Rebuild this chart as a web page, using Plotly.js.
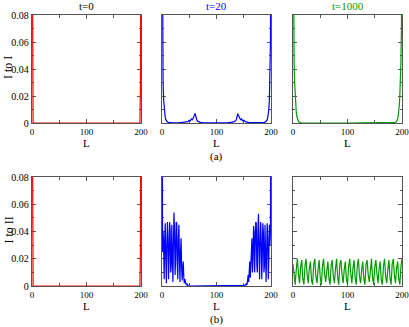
<!DOCTYPE html>
<html>
<head>
<meta charset="utf-8">
<script src="https://cdn.plot.ly/plotly-3.0.1.min.js"></script>
<style>
  html, body { margin: 0; padding: 0; background: #fff; }
  #chart { width: 409px; height: 327px; }
</style>
</head>
<body>
<div id="chart"></div>
<script>
// t=0 profile (same in both rows)
const redL = [0, 1, 2, 100, 198, 199, 200];
const redVals = [0.2, 0.027, 0, 0, 0, 0.027, 0.2];

// t=20, I to I
const blueTopL = [0, 1, 2, 3, 4, 5, 6, 7, 8, 10, 12, 15, 20, 30, 40,
  46, 48, 50, 52, 54, 56, 58, 60, 61, 62, 64, 66, 68, 70, 75, 80, 100,
  120, 125, 130, 132, 134, 136, 138, 139, 140, 142, 144, 146, 148, 150, 152, 154, 160, 170, 180,
  185, 188, 190, 192, 193, 194, 195, 196, 197, 198, 199, 200];
const blueTopVals = [0.2, 0.06, 0.03, 0.017, 0.01, 0.006, 0.004, 0.0025, 0.0015,
  0.0008, 0.0004, 0.0002, 0.0001, 0.0002, 0.0003,
  0.0008, 0.0012, 0.002, 0.0015, 0.003, 0.0025, 0.004, 0.006, 0.0072, 0.005, 0.002, 0.0012, 0.0008, 0.0005, 0.0003, 0.0002,
  0.0001,
  0.0002, 0.0003, 0.0005, 0.0008, 0.0012, 0.002, 0.005, 0.007, 0.006, 0.004, 0.0025, 0.003, 0.0015, 0.002, 0.0012, 0.0008, 0.0003, 0.0002, 0.0001,
  0.0002, 0.0005, 0.0008, 0.0015, 0.0025, 0.004, 0.006, 0.01, 0.017, 0.03, 0.06, 0.2];

// t=1000, I to I
const greenTopL = [0, 1, 2, 3, 4, 5, 6, 7, 8, 9, 10, 12, 15, 100, 185, 188,
  190, 191, 192, 193, 194, 195, 196, 197, 198, 199, 200];
const greenTopVals = [0.2, 0.07, 0.045, 0.03, 0.02, 0.013, 0.008, 0.005, 0.003, 0.002, 0.0012,
  0.0005, 0.0002, 0, 0.0002, 0.0005,
  0.0012, 0.002, 0.003, 0.005, 0.008, 0.013, 0.02, 0.03, 0.045, 0.07, 0.2];

// t=20, I to II (L = 0..48 and 150..200, step 1)
const blueBotLeft = [0.2, 0.025, 0.04, 0.03, 0.005, 0.035, 0.046, 0.02, 0.002, 0.03,
  0.047, 0.035, 0.005, 0.02, 0.047, 0.04, 0.01, 0.015, 0.045, 0.03,
  0.003, 0.03, 0.054, 0.04, 0.008, 0.02, 0.047, 0.046, 0.015, 0.005,
  0.035, 0.045, 0.02, 0.003, 0.025, 0.035, 0.015, 0.004, 0.012, 0.018,
  0.006, 0.002, 0.005, 0.003, 0.001, 0.002, 0.0005, 0.001, 0];
const blueBotRight = [0, 0, 0.0005, 0.001, 0.0005, 0.002, 0.001, 0.004, 0.008, 0.003,
  0.012, 0.018, 0.006, 0.015, 0.03, 0.035, 0.01, 0.02, 0.044, 0.04,
  0.01, 0.025, 0.047, 0.046, 0.015, 0.01, 0.04, 0.053, 0.03, 0.005,
  0.03, 0.047, 0.035, 0.005, 0.02, 0.046, 0.04, 0.01, 0.015, 0.045,
  0.03, 0.003, 0.025, 0.046, 0.035, 0.005, 0.02, 0.045, 0.03, 0.04, 0.2];

// t=1000, I to II (L = 0..200, step 2)
const greenBotVals = [0.016, 0.006, 0.001, 0.012, 0.020, 0.009, 0.002, 0.014, 0.019, 0.005,
  0.001, 0.015, 0.020, 0.008, 0.002, 0.013, 0.018, 0.004, 0.001, 0.016,
  0.020, 0.007, 0.002, 0.012, 0.019, 0.006, 0.001, 0.014, 0.020, 0.009,
  0.003, 0.011, 0.018, 0.005, 0.001, 0.015, 0.019, 0.007, 0.002, 0.013,
  0.020, 0.006, 0.001, 0.016, 0.019, 0.008, 0.002, 0.012, 0.018, 0.005,
  0.001, 0.014, 0.020, 0.009, 0.002, 0.013, 0.019, 0.006, 0.001, 0.015,
  0.020, 0.007, 0.002, 0.012, 0.018, 0.005, 0.001, 0.016, 0.019, 0.008,
  0.003, 0.011, 0.020, 0.006, 0.001, 0.014, 0.019, 0.009, 0.002, 0.013,
  0.018, 0.004, 0.001, 0.015, 0.020, 0.007, 0.002, 0.012, 0.019, 0.006,
  0.001, 0.016, 0.020, 0.008, 0.002, 0.013, 0.018, 0.005, 0.001, 0.014, 0.020];

const blueBotL = blueBotLeft.map((v, i) => i).concat(blueBotRight.map((v, i) => 150 + i));
const blueBotVals = blueBotLeft.concat(blueBotRight);
const greenBotL = greenBotVals.map((v, i) => i * 2);

const titles = ['t=0', 't=20', 't=1000'];
const yTitles = ['I to I', 'I to II'];
const rowLabels = ['(a)', '(b)'];

const RED = '#ff0000', BLUE = '#0000ff', GREEN = '#009a00';
const FONT = '"Liberation Serif", "Times New Roman", serif';

const W = 409, H = 327;
const colPx = [[32, 141], [162, 271], [293, 402]];
const rowPx = [[15, 123], [177, 286]];

function line(x, y, color, axis) {
    return {
        x, y, type: 'scatter', mode: 'lines',
        line: { color, width: 1.2 },
        xaxis: 'x' + axis, yaxis: 'y' + axis,
        hoverinfo: 'skip', showlegend: false
    };
}

const data = [
    line(redL, redVals, RED, ''),
    line(blueTopL, blueTopVals, BLUE, '2'),
    line(greenTopL, greenTopVals, GREEN, '3'),
    line(redL, redVals, RED, '4'),
    line(blueBotL, blueBotVals, BLUE, '5'),
    line(greenBotL, greenBotVals, GREEN, '6')
];

const layout = {
    width: W, height: H,
    margin: { l: 0, r: 0, t: 0, b: 0 },
    paper_bgcolor: '#fff', plot_bgcolor: '#fff',
    font: { family: FONT, size: 10, color: '#000' },
    annotations: []
};

const axisCommon = {
    showline: true, linecolor: '#555', linewidth: 1.2,
    mirror: 'allticks', ticks: 'inside', ticklen: 4, tickcolor: '#555', tickwidth: 1,
    showgrid: false, zeroline: false, layer: 'below traces', fixedrange: true,
    ticklabeloverflow: 'allow'
};

function label(text, xpx, ypx, size, color, angle) {
    return {
        text, xref: 'paper', yref: 'paper',
        x: xpx / W, y: 1 - ypx / H,
        xanchor: 'center', yanchor: 'middle',
        textangle: angle || 0, showarrow: false,
        font: { family: FONT, size, color }
    };
}

for (let r = 0; r < 2; r++) {
    for (let c = 0; c < 3; c++) {
        const k = r * 3 + c + 1;
        const sx = k === 1 ? '' : String(k);
        layout['xaxis' + sx] = Object.assign({}, axisCommon, {
            domain: [colPx[c][0] / W, colPx[c][1] / W],
            anchor: 'y' + sx,
            range: [0, 200],
            tickvals: [0, 100, 200],
            ticktext: ['0', '100', '200'],
            tickfont: { family: FONT, size: 9, color: '#000' },
            minor: { tickvals: [50, 150], ticks: 'inside', ticklen: 3, tickcolor: '#555' }
        });
        layout['yaxis' + sx] = Object.assign({}, axisCommon, {
            domain: [1 - rowPx[r][1] / H, 1 - rowPx[r][0] / H],
            anchor: 'x' + sx,
            range: [0, 0.08],
            tickvals: [0, 0.02, 0.04, 0.06, 0.08],
            ticktext: ['0', '0.02', '0.04', '0.06', '0.08'],
            tickfont: { family: FONT, size: 10, color: '#000' },
            showticklabels: c === 0,
            minor: { tickvals: [0.01, 0.03, 0.05, 0.07], ticks: 'inside', ticklen: 2, tickcolor: '#555' }
        });
        const cx = (colPx[c][0] + colPx[c][1]) / 2;
        // "L" under each panel
        layout.annotations.push(label('L', cx, rowPx[r][1] + 20, 11, '#000'));
        if (r === 0) {
            layout.annotations.push(label(titles[c], cx, 6, 11, ['#000', BLUE, GREEN][c]));
        }
    }
    layout.annotations.push(label(yTitles[r], 8, (rowPx[r][0] + rowPx[r][1]) / 2 - 1, 12, '#000', -90));
    layout.annotations.push(label(rowLabels[r], 216, rowPx[r][1] + 33, 11, '#000'));
}

Plotly.newPlot('chart', data, layout, { displayModeBar: false, staticPlot: true });
</script>
</body>
</html>
